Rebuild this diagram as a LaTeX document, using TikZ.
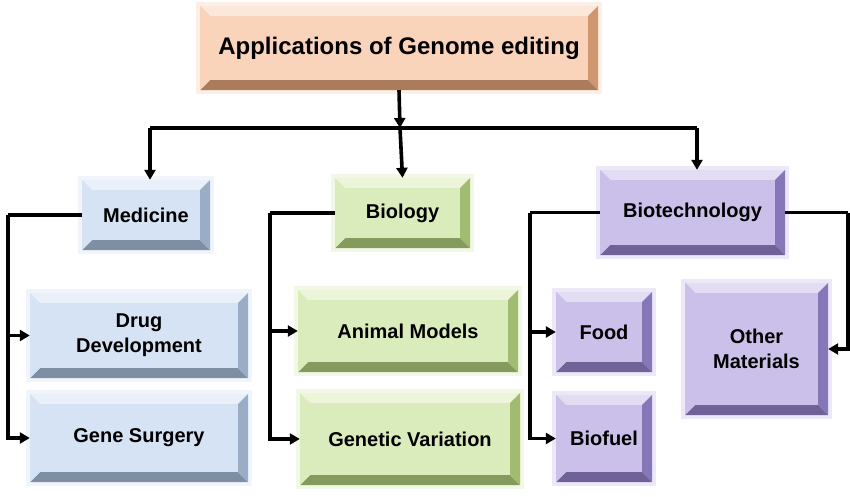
\documentclass[tikz,border=0pt]{standalone}
\usepackage{fontspec}
\setmainfont{Liberation Sans}
\usetikzlibrary{fit,arrows.meta}
\definecolor{cOr}{HTML}{F4B183}
\definecolor{cBl}{HTML}{B4CCEA}
\definecolor{cGr}{HTML}{BEDD85}
\definecolor{cPu}{HTML}{A08CD8}
\tikzset{arr/.style={line width=3.6pt,-{Triangle[length=10pt,width=11pt]}},
 ln/.style={line width=3.6pt},
 lbl/.style={font=\bfseries\fontsize{20}{25}\selectfont,align=center,inner sep=0pt}}
\newcommand\bx[7]{%
 \fill[#6!40!white,opacity=0.5] (#2-4,#3-4) rectangle (#4+4,#5+4);
 \fill[#6!70!white] (#2,#3) rectangle (#4,#5);
 \fill[#6!30!white] (#2,#3)--(#4,#3)--(#4-10,#3+10)--(#2+10,#3+10)--cycle;
 \fill[#6!70!black] (#2,#5)--(#4,#5)--(#4-10,#5-10)--(#2+10,#5-10)--cycle;
 \fill[#6!55!white] (#2,#3)--(#2+10,#3+10)--(#2+10,#5-10)--(#2,#5)--cycle;
 \fill[#6!85!black] (#4,#3)--(#4-10,#3+10)--(#4-10,#5-10)--(#4,#5)--cycle;
 \fill[#6!55!white] (#2+10,#3+10) rectangle (#4-10,#5-10);
 \node[fit={(#2,#3)(#4,#5)},lbl,inner sep=0pt] (#1) {};
 \node[lbl] at (#1.center) {#7};}
\begin{document}
\begin{tikzpicture}[x=1pt,y=-1pt]
\useasboundingbox (0,0) rectangle (850,496);
\bx{top}{200}{6}{598}{90}{cOr}{\fontsize{24}{28}\selectfont Applications of Genome editing}
\bx{med}{82}{180}{210}{250}{cBl}{Medicine}
\bx{bio}{335}{178}{470}{248}{cGr}{Biology}
\bx{btec}{600}{170}{785}{255}{cPu}{Biotechnology}
\bx{drug}{30}{293}{248}{378}{cBl}{Drug\\Development}
\bx{gene}{30}{394}{248}{482}{cBl}{Gene Surgery}
\bx{anim}{298}{290}{518}{372}{cGr}{Animal Models}
\bx{genv}{300}{393}{520}{485}{cGr}{Genetic Variation}
\bx{food}{556}{292}{652}{372}{cPu}{Food}
\bx{fuel}{556}{395}{652}{482}{cPu}{Biofuel}
\bx{oth}{685}{283}{828}{415}{cPu}{Other\\Materials}
\coordinate (hub) at (400,128);
\coordinate (hl) at (150,128);
\coordinate (hr) at (697,128);
\draw[arr] (top.south) -- (hub);
\draw[ln] (hl) -- (hr);
\draw[arr] (hub) -- (bio.north);
\draw[arr] (hl) -- (med.north -| hl);
\draw[arr] (hr) -- (btec.north -| hr);
\coordinate (m1) at (med.west -| 8,0);
\draw[ln] (med.west) -- (m1);
\draw[arr] (m1) |- (drug.west);
\draw[arr] (m1) |- (gene.west);
\coordinate (b1) at (bio.west -| 270,0);
\draw[ln] (bio.west) -- (b1);
\draw[arr] (b1) |- (anim.west);
\draw[arr] (b1) |- (genv.west);
\coordinate (t1) at (btec.west -| 530,0);
\draw[ln] (btec.west) -- (t1);
\draw[arr] (t1) |- (food.west);
\draw[arr] (t1) |- (fuel.west);
\coordinate (t2) at (btec.east -| 848,0);
\draw[ln] (btec.east) -- (t2);
\draw[arr] (t2) |- (oth.east);
\end{tikzpicture}
\end{document}
